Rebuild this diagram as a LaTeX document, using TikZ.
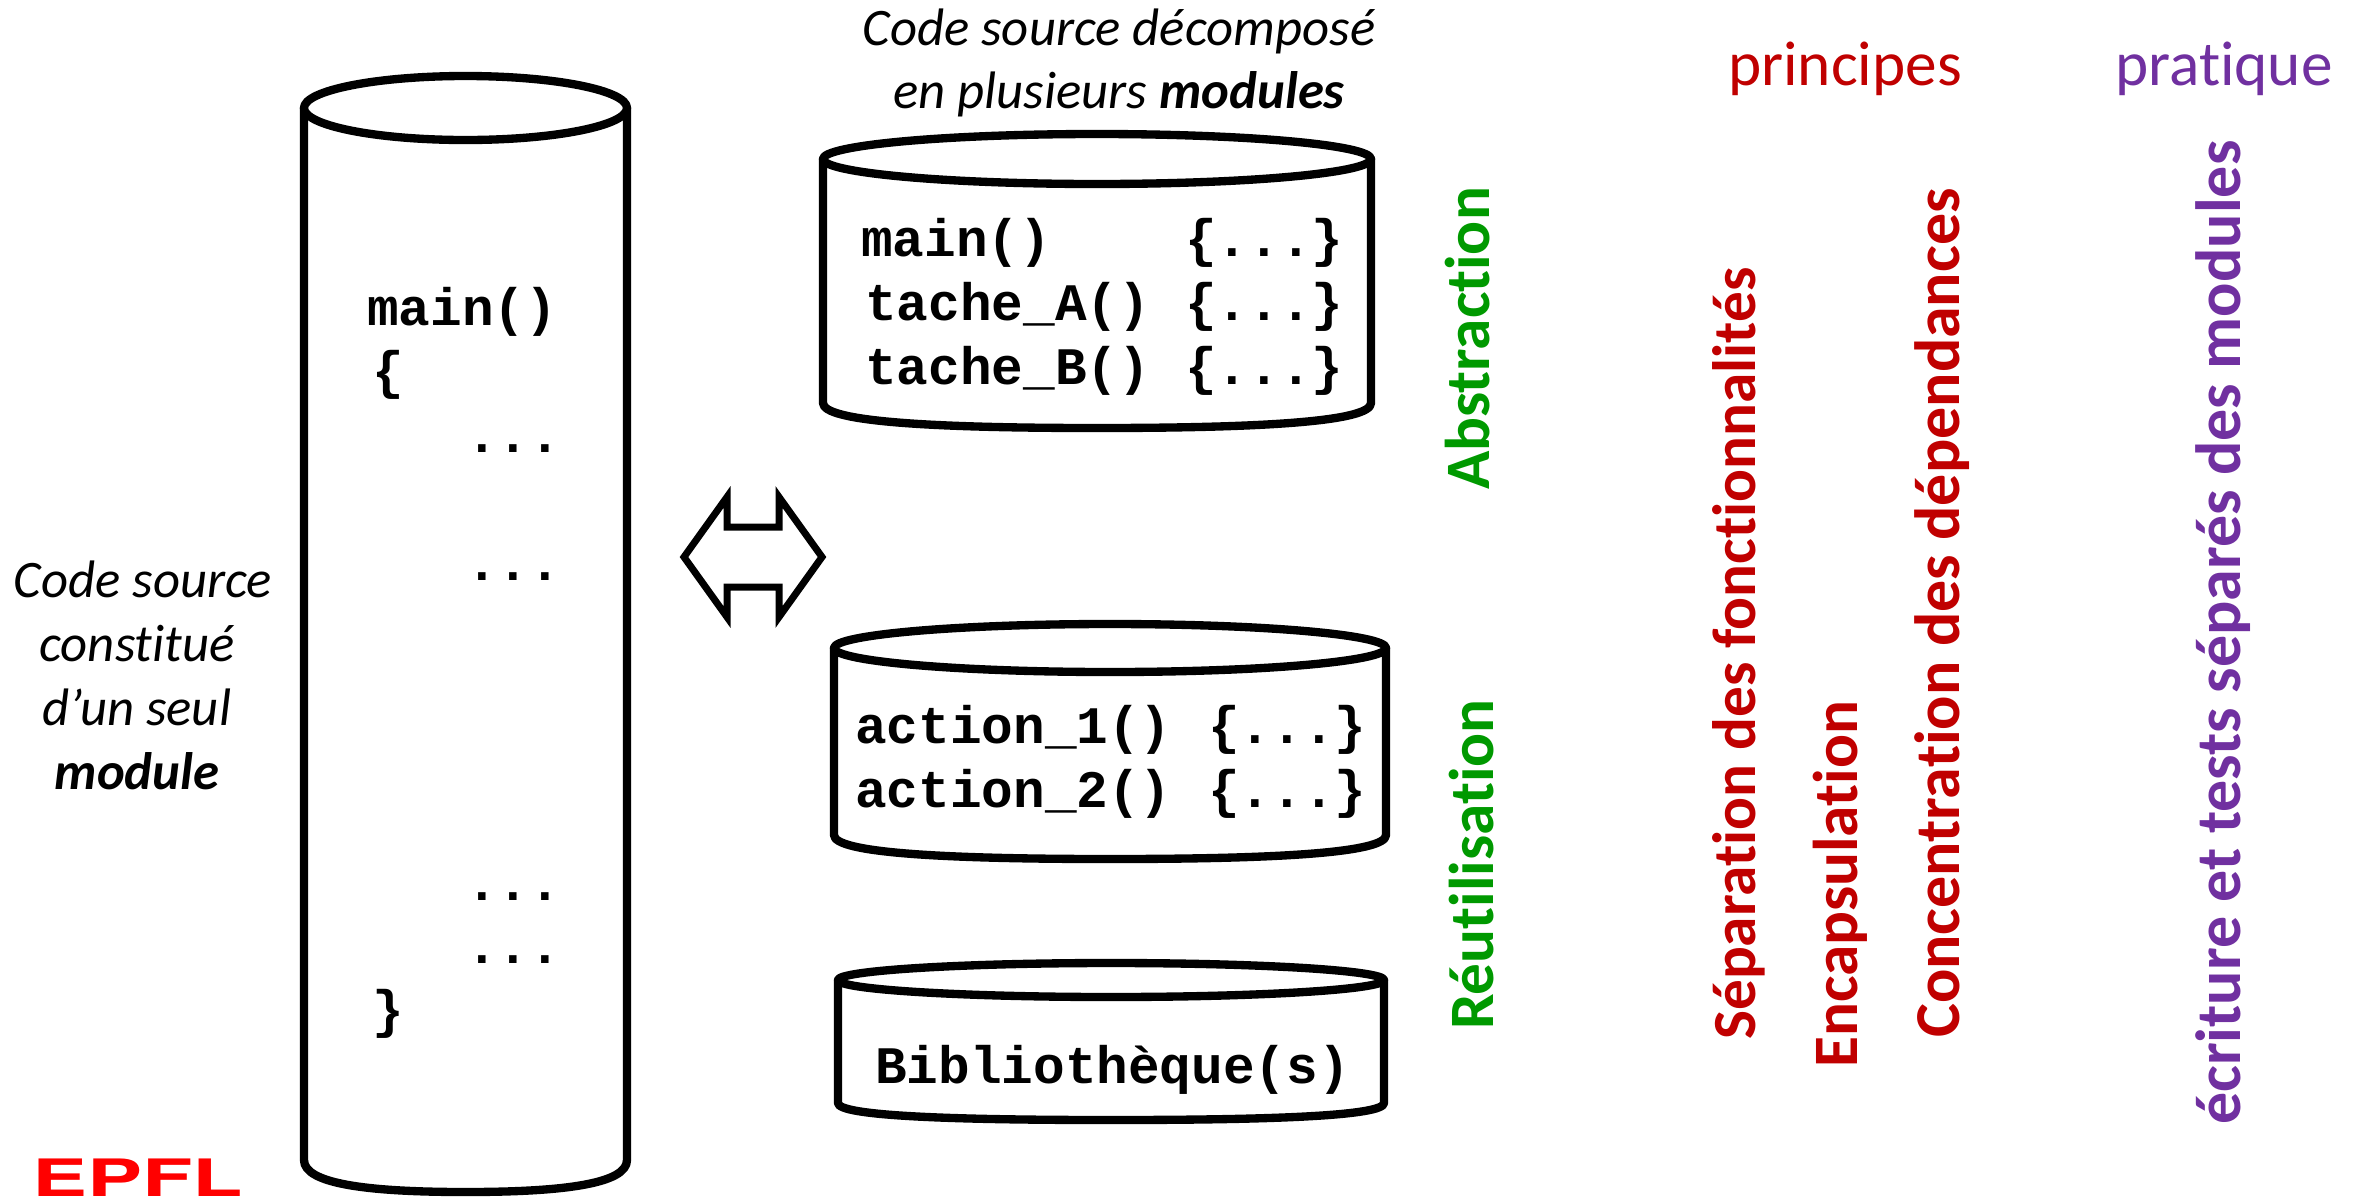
\documentclass[tikz,border=0pt]{standalone}
\usepackage{fontspec}
\setmainfont{Carlito}[Ligatures=NoCommon]
\newfontfamily\codefont{Liberation Mono}[BoldFont={Liberation Mono Bold}]
\newfontfamily\logofont{TeX Gyre Heros}
\definecolor{grn}{RGB}{0,153,0}
\definecolor{rd}{RGB}{192,0,0}
\definecolor{prp}{RGB}{112,48,160}
\definecolor{epfl}{RGB}{255,0,0}
\tikzset{
  x=0.3mm,y=-0.3mm,
  cyl/.style={line width=2.5mm,line join=round,line cap=round,fill=white},
  code/.style={anchor=base west,inner sep=0,font=\codefont\bfseries\fontsize{45}{45}\selectfont},
  captxt/.style={inner sep=0,align=center,font=\itshape\fontsize{45}{53.5}\selectfont},
  captxtb/.style={inner sep=0,anchor=base,font=\itshape\fontsize{45}{53.5}\selectfont},
  vert/.style={rotate=90,inner sep=0,anchor=base west,font=\bfseries\fontsize{54}{54}\selectfont},
  vertb/.style={rotate=90,inner sep=0,anchor=base west,font=\bfseries\fontsize{54.6}{54.6}\selectfont},
  head/.style={anchor=base,inner sep=0,font=\fontsize{54}{54}\selectfont},
}
\newcommand{\cylinder}[5]{% left right topcentre bottom ry
  \draw[cyl] (#1,#3) -- (#1,#4) .. controls (#1,{#4+#5*0.75}) and ({#1+(#2-#1)*0.2},{#4+#5}) .. ({(#1+#2)/2},{#4+#5})
    .. controls ({#2-(#2-#1)*0.2},{#4+#5}) and (#2,{#4+#5*0.75}) .. (#2,#4) -- (#2,#3);
  \draw[cyl] ({(#1+#2)/2},#3) ellipse [x radius={(#2-#1)/2},y radius=#5];
}
\begin{document}
\begin{tikzpicture}
\useasboundingbox (0,0) rectangle (2359,1202);
\cylinder{304}{627}{108}{1160}{32}
\cylinder{823}{1371}{159}{403}{25}
\cylinder{834}{1386}{648}{835}{24}
\cylinder{838}{1384}{980}{1103}{17}
\draw[line width=2.1mm,line join=miter,miter limit=10] (684,557) -- (727,497) -- (727,527) -- (779,527) -- (779,497) -- (822,557) -- (779,617) -- (779,587) -- (727,587) -- (727,617) -- cycle;
% big cylinder code
\node[code] (m1) at (367,325) {main()};
\node[code] (m2) at (372,388) {\{};
\node[code] (d1) at (466,452) {...};
\node[code] (d2) at (466,580) {...};
\node[code] (d3) at (466,900) {...};
\node[code] (d4) at (466,963) {...};
\node[code] (m3) at (372,1027) {\}};
% module 1
\node[code] (a1) at (861,256) {main()};
\node[code] (a2) at (865,320) {tache\_A()};
\node[code] (a3) at (865,384) {tache\_B()};
\node[code] (a4) at (1185,256) {\{...\}};
\node[code] (a5) at (1185,320) {\{...\}};
\node[code] (a6) at (1185,384) {\{...\}};
% module 2
\node[code] (b1) at (855,743) {action\_1()};
\node[code] (b2) at (855,807) {action\_2()};
\node[code] (b3) at (1208,743) {\{...\}};
\node[code] (b4) at (1208,807) {\{...\}};
\node[code] (c1) at (875,1083) {Bibliothèque(s)};
% captions
\node[captxtb] (t1a) at (143,597) {Code source};
\node[captxtb] (t1b) at (137,661) {constitué};
\node[captxtb] (t1c) at (137,725) {d’un seul};
\node[captxtb] (t1d) at (137,789) {\textbf{module}};
\node[captxt] (t2) at (1119,63) {Code source décomposé\\en plusieurs \textbf{modules}};
% vertical
\node[vert,text=grn] (v1) at (1489,490) {Abstraction};
\node[vert,text=grn] (v2) at (1493,1030) {Réutilisation};
\node[rotate=90,inner sep=0,anchor=base west,font=\bfseries\fontsize{52.3}{52.3}\selectfont,text=rd] (v3) at (1755,1040) {Séparation des fonctionnalités};
\node[vert,text=rd] (v4) at (1857,1068) {Encapsulation};
\node[vertb,text=rd] (v5) at (1959,1038) {Concentration des dépendances};
\node[vertb,text=prp] (v6) at (2240,1125) {écriture et tests séparés des modules};
\node[head,text=rd] (h1) at (1845,85) {principes};
\node[head,text=prp] (h2) at (2224,85) {pratique};
% logo
\node[inner sep=0,anchor=base west,text=epfl,font=\logofont\bfseries\fontsize{44}{44}\selectfont,xscale=1.6,transform shape] (logo) at (32,1196) {EPFL};
\end{tikzpicture}
\end{document}
